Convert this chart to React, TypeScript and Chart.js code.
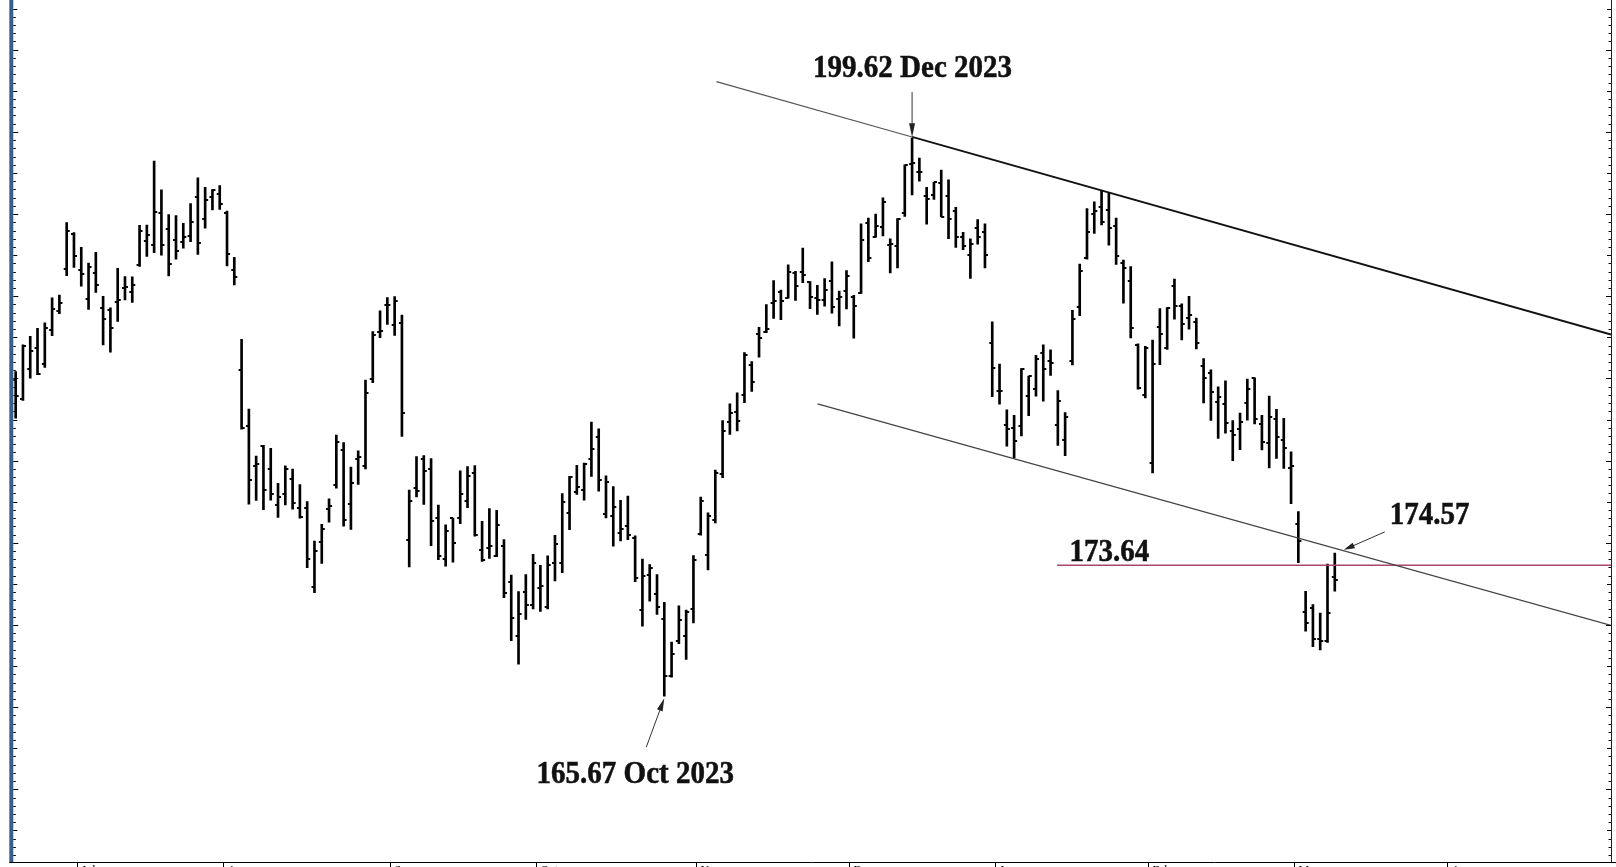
import React, { useEffect, useRef } from 'react';
import { Chart, registerables } from 'chart.js';

Chart.register(...registerables);

// ---- Data (daily OHLC, Jun 21 2023 – Mar 11 2024) ----
const dates = [
  'Jun 21', 'Jun 22', 'Jun 23', 'Jun 26', 'Jun 27', 'Jun 28', 'Jun 29', 'Jun 30',
  'Jul 3', 'Jul 5', 'Jul 6', 'Jul 7', 'Jul 10', 'Jul 11', 'Jul 12', 'Jul 13', 'Jul 14', 'Jul 17', 'Jul 18', 'Jul 19', 'Jul 20', 'Jul 21', 'Jul 24', 'Jul 25', 'Jul 26', 'Jul 27', 'Jul 28', 'Jul 31',
  'Aug 1', 'Aug 2', 'Aug 3', 'Aug 4', 'Aug 7', 'Aug 8', 'Aug 9', 'Aug 10', 'Aug 11', 'Aug 14', 'Aug 15', 'Aug 16', 'Aug 17', 'Aug 18', 'Aug 21', 'Aug 22', 'Aug 23', 'Aug 24', 'Aug 25', 'Aug 28', 'Aug 29', 'Aug 30', 'Aug 31',
  'Sep 1', 'Sep 5', 'Sep 6', 'Sep 7', 'Sep 8', 'Sep 11', 'Sep 12', 'Sep 13', 'Sep 14', 'Sep 15', 'Sep 18', 'Sep 19', 'Sep 20', 'Sep 21', 'Sep 22', 'Sep 25', 'Sep 26', 'Sep 27', 'Sep 28', 'Sep 29',
  'Oct 2', 'Oct 3', 'Oct 4', 'Oct 5', 'Oct 6', 'Oct 9', 'Oct 10', 'Oct 11', 'Oct 12', 'Oct 13', 'Oct 16', 'Oct 17', 'Oct 18', 'Oct 19', 'Oct 20', 'Oct 23', 'Oct 24', 'Oct 25', 'Oct 26', 'Oct 27', 'Oct 30', 'Oct 31',
  'Nov 1', 'Nov 2', 'Nov 3', 'Nov 6', 'Nov 7', 'Nov 8', 'Nov 9', 'Nov 10', 'Nov 13', 'Nov 14', 'Nov 15', 'Nov 16', 'Nov 17', 'Nov 20', 'Nov 21', 'Nov 22', 'Nov 24', 'Nov 27', 'Nov 28', 'Nov 29', 'Nov 30',
  'Dec 1', 'Dec 4', 'Dec 5', 'Dec 6', 'Dec 7', 'Dec 8', 'Dec 11', 'Dec 12', 'Dec 13', 'Dec 14', 'Dec 15', 'Dec 18', 'Dec 19', 'Dec 20', 'Dec 21', 'Dec 22', 'Dec 26', 'Dec 27', 'Dec 28', 'Dec 29',
  'Jan 2', 'Jan 3', 'Jan 4', 'Jan 5', 'Jan 8', 'Jan 9', 'Jan 10', 'Jan 11', 'Jan 12', 'Jan 16', 'Jan 17', 'Jan 18', 'Jan 19', 'Jan 22', 'Jan 23', 'Jan 24', 'Jan 25', 'Jan 26', 'Jan 29', 'Jan 30', 'Jan 31',
  'Feb 1', 'Feb 2', 'Feb 5', 'Feb 6', 'Feb 7', 'Feb 8', 'Feb 9', 'Feb 12', 'Feb 13', 'Feb 14', 'Feb 15', 'Feb 16', 'Feb 20', 'Feb 21', 'Feb 22', 'Feb 23', 'Feb 26', 'Feb 27', 'Feb 28', 'Feb 29',
  'Mar 1', 'Mar 4', 'Mar 5', 'Mar 6', 'Mar 7', 'Mar 8', 'Mar 11',
];

const opens = [
  184.90, 183.74, 185.55, 186.83, 185.89, 187.93, 189.08, 191.63,
  193.78, 191.57, 189.84, 191.41, 189.26, 189.16, 189.68, 190.50, 190.23, 191.90, 193.35, 193.10, 195.09, 194.10, 193.41, 193.33, 193.67, 196.02, 194.67, 196.06,
  196.24, 195.04, 191.57, 185.52, 182.13, 179.69, 180.87, 179.48, 177.32, 177.97, 178.88, 177.13, 177.14, 172.30, 175.07, 177.06, 178.52, 180.67, 177.38, 180.09, 179.70, 184.94, 187.84,
  189.49, 188.28, 188.40, 175.18, 178.35, 180.07, 179.49, 176.51, 174.00, 176.48, 176.48, 177.52, 179.26, 174.55, 174.67, 174.20, 174.82, 172.62, 169.34, 172.02,
  171.22, 172.26, 171.09, 173.79, 173.80, 176.81, 178.10, 178.20, 180.07, 181.42, 176.75, 176.65, 175.58, 176.04, 175.31, 170.91, 173.05, 171.88, 170.37, 166.91, 169.02, 169.35,
  171.00, 175.52, 174.24, 176.38, 179.18, 182.35, 182.96, 183.97, 185.82, 187.70, 187.85, 189.57, 190.25, 189.89, 191.41, 191.49, 190.87, 189.92, 189.78, 190.90, 189.84,
  190.33, 189.98, 190.21, 194.45, 193.63, 194.20, 193.11, 193.08, 195.09, 198.02, 197.53, 196.09, 196.16, 196.90, 196.10, 195.18, 193.61, 192.49, 194.14, 193.90,
  187.15, 184.22, 182.15, 181.99, 182.09, 183.92, 184.35, 186.54, 186.06, 182.16, 181.27, 186.09, 189.33, 192.30, 195.02, 195.42, 195.22, 194.27, 192.01, 190.94, 187.04,
  183.99, 179.86, 188.15, 186.86, 190.64, 189.39, 188.65, 188.42, 185.77, 185.32, 183.55, 183.42, 181.79, 181.94, 183.48, 185.01, 182.24, 181.10, 182.51, 181.27,
  179.55, 176.15, 170.76, 171.06, 169.15, 169.00, 172.94,
];

const highs = [
  185.41, 187.05, 187.56, 188.05, 188.39, 189.90, 190.07, 194.48,
  193.88, 192.98, 192.02, 192.67, 189.99, 189.30, 191.70, 191.19, 191.18, 194.32, 194.33, 198.23, 196.47, 194.97, 194.91, 194.44, 195.64, 197.20, 196.63, 196.49,
  196.73, 195.18, 192.37, 187.38, 183.13, 180.27, 180.93, 180.75, 178.62, 179.69, 179.48, 178.54, 177.51, 175.10, 176.13, 177.68, 181.55, 181.10, 179.60, 180.59, 184.90, 187.85, 189.12,
  189.92, 189.98, 188.85, 178.21, 180.24, 180.30, 180.13, 177.30, 176.10, 176.50, 179.38, 179.63, 179.70, 176.30, 177.08, 176.97, 175.20, 173.04, 172.03, 173.07,
  174.30, 173.63, 174.21, 175.45, 177.99, 179.05, 179.72, 179.85, 182.34, 181.93, 179.08, 178.42, 177.58, 177.84, 175.42, 174.01, 173.67, 173.06, 171.38, 168.96, 171.17, 170.90,
  174.23, 177.78, 176.82, 179.43, 182.44, 183.45, 184.12, 186.57, 186.03, 188.11, 189.50, 190.96, 190.38, 191.91, 191.52, 192.93, 190.90, 190.67, 191.08, 192.09, 190.32,
  191.56, 190.05, 194.40, 194.76, 195.00, 195.99, 193.49, 194.72, 198.00, 199.62, 198.40, 196.63, 196.95, 197.68, 197.08, 195.41, 193.89, 193.50, 194.66, 194.40,
  188.44, 185.88, 183.09, 182.76, 185.60, 185.15, 186.40, 187.05, 186.74, 184.26, 182.93, 189.14, 191.95, 195.33, 195.75, 196.38, 196.27, 194.76, 192.20, 191.80, 187.10,
  186.95, 187.33, 189.25, 189.31, 191.05, 189.54, 189.99, 188.67, 186.21, 185.53, 184.49, 184.85, 182.43, 182.89, 184.96, 185.04, 182.76, 183.92, 183.12, 182.57,
  180.53, 176.90, 172.04, 171.24, 170.73, 173.70, 174.38,
];

const lows = [
  182.59, 183.67, 185.01, 185.23, 185.67, 187.60, 188.94, 191.26,
  191.76, 190.62, 189.20, 190.24, 187.04, 186.60, 188.47, 189.78, 189.63, 191.81, 192.42, 192.65, 192.50, 191.23, 192.25, 192.92, 193.32, 192.55, 194.14, 195.26,
  195.28, 191.85, 190.69, 181.92, 177.35, 177.58, 177.01, 177.60, 176.55, 177.31, 177.05, 176.50, 173.48, 171.96, 173.74, 176.25, 178.33, 176.01, 175.82, 178.55, 179.50, 184.74, 187.48,
  188.28, 187.61, 181.47, 173.54, 177.79, 177.34, 174.82, 173.98, 173.58, 173.82, 176.17, 177.13, 175.40, 173.86, 174.05, 174.15, 171.66, 169.05, 167.62, 170.34,
  170.97, 170.82, 170.97, 172.68, 173.18, 175.80, 177.95, 177.60, 179.04, 178.14, 176.51, 174.80, 175.11, 175.19, 172.64, 169.93, 171.45, 170.65, 165.67, 166.83, 168.87, 167.90,
  170.12, 175.46, 173.35, 176.21, 178.97, 181.59, 181.81, 183.53, 184.21, 186.30, 187.78, 188.65, 188.57, 189.88, 189.74, 190.83, 189.25, 188.90, 189.40, 188.97, 188.19,
  189.23, 187.45, 190.18, 192.11, 193.59, 193.67, 191.42, 191.72, 194.85, 196.16, 197.00, 194.39, 195.89, 194.83, 193.50, 192.97, 192.83, 191.09, 193.17, 191.73,
  183.89, 183.43, 180.88, 180.17, 181.50, 182.73, 183.92, 183.62, 185.19, 180.93, 180.30, 185.83, 188.82, 192.26, 193.83, 194.34, 193.11, 191.94, 189.58, 187.47, 184.35,
  183.82, 179.25, 185.84, 186.77, 188.61, 187.35, 188.00, 186.79, 183.51, 182.44, 181.35, 181.67, 180.00, 180.66, 182.46, 182.23, 180.65, 179.56, 180.13, 179.53,
  177.38, 173.79, 169.62, 168.68, 168.49, 168.94, 172.05,
];

const closes = [
  183.96, 187.00, 186.68, 185.27, 188.06, 189.25, 189.59, 193.97,
  192.46, 191.33, 191.81, 190.68, 188.61, 188.08, 189.77, 190.54, 190.69, 193.99, 193.73, 195.10, 193.13, 191.94, 192.75, 193.62, 194.50, 193.22, 195.83, 196.45,
  195.61, 192.58, 191.17, 181.99, 178.85, 179.80, 178.19, 177.97, 177.79, 179.46, 177.45, 176.57, 174.00, 174.49, 175.84, 177.23, 181.12, 176.38, 178.61, 180.19, 184.12, 187.65, 187.87,
  189.46, 189.70, 182.91, 177.56, 178.18, 179.36, 176.30, 174.21, 175.74, 175.01, 177.97, 179.07, 175.49, 173.93, 174.79, 176.08, 171.96, 170.43, 170.69, 171.21,
  173.75, 172.40, 173.66, 174.91, 177.49, 178.99, 178.39, 179.80, 180.71, 178.85, 178.72, 177.15, 175.84, 175.46, 172.88, 173.00, 173.44, 171.10, 166.89, 168.22, 170.29, 170.77,
  173.97, 177.57, 176.65, 179.23, 181.82, 182.89, 182.41, 186.40, 184.80, 187.44, 188.01, 189.71, 189.69, 191.45, 190.64, 191.31, 189.97, 189.79, 190.40, 189.37, 189.95,
  191.24, 189.43, 193.42, 192.32, 194.27, 195.71, 193.18, 194.71, 197.96, 198.11, 197.57, 195.89, 196.94, 194.83, 194.68, 193.60, 193.05, 193.15, 193.58, 192.53,
  185.64, 184.25, 181.91, 181.18, 185.56, 185.14, 186.19, 185.59, 185.92, 183.63, 182.68, 188.63, 191.56, 193.89, 195.18, 194.50, 194.17, 192.42, 191.73, 188.04, 184.40,
  186.86, 185.85, 187.68, 189.30, 189.41, 188.32, 188.85, 187.15, 185.04, 184.15, 183.86, 182.31, 181.56, 182.32, 184.37, 182.52, 181.16, 182.63, 181.42, 180.75,
  179.66, 175.10, 170.12, 169.12, 169.00, 170.73, 172.75,
];

// month separators (bar index of first trading day) and their labels
const monthStarts = [8, 28, 51, 71, 93, 114, 134, 155, 175, 196];
const monthLabels = ['Jul', 'Aug', 'Sep', 'Oct', 'Nov', 'Dec', 'Jan', 'Feb', 'Mar', 'Apr'];

// trend lines (index, price)
const upperTrendA = [{ x: 96.15, y: 203.06 }, { x: 123, y: 199.69 }];
const upperTrendB = [{ x: 123, y: 199.69 }, { x: 218.9, y: 187.67 }];
const lowerTrend = [{ x: 110.03, y: 183.45 }, { x: 218.9, y: 169.98 }];
const supportLevel = 173.64;
const supportFrom = 142.9;

const X_MIN = -0.324;
const X_MAX = 218.9;
const Y_MIN = 155.58;
const Y_MAX = 207.72;

function makeTick(side: 'left' | 'right'): HTMLCanvasElement {
  const c = document.createElement('canvas');
  c.width = 10;
  c.height = 2;
  const g = c.getContext('2d')!;
  g.fillStyle = '#000';
  if (side === 'left') g.fillRect(2, 0, 3, 2);
  else g.fillRect(5, 0, 3, 2);
  return c;
}

function arrow(ctx: CanvasRenderingContext2D, x1: number, y1: number, x2: number, y2: number, headLen: number, headW: number) {
  const ang = Math.atan2(y2 - y1, x2 - x1);
  ctx.beginPath();
  ctx.moveTo(x1, y1);
  ctx.lineTo(x2 - Math.cos(ang) * headLen * 0.8, y2 - Math.sin(ang) * headLen * 0.8);
  ctx.stroke();
  ctx.beginPath();
  ctx.moveTo(x2, y2);
  ctx.lineTo(x2 - Math.cos(ang) * headLen + Math.sin(ang) * headW / 2, y2 - Math.sin(ang) * headLen - Math.cos(ang) * headW / 2);
  ctx.lineTo(x2 - Math.cos(ang) * headLen - Math.sin(ang) * headW / 2, y2 - Math.sin(ang) * headLen + Math.cos(ang) * headW / 2);
  ctx.closePath();
  ctx.fill();
}

function label(ctx: CanvasRenderingContext2D, text: string, x: number, y: number, align: CanvasTextAlign) {
  ctx.save();
  ctx.translate(x, y);
  ctx.scale(1, 1.12);
  ctx.font = "bold 29px 'Liberation Serif', 'Times New Roman', serif";
  ctx.textAlign = align;
  ctx.textBaseline = 'alphabetic';
  ctx.fillStyle = '#111';
  ctx.strokeStyle = '#111';
  ctx.lineWidth = 0.5;
  ctx.fillText(text, 0, 0);
  ctx.strokeText(text, 0, 0);
  ctx.restore();
}

const decorPlugin = {
  id: 'decor',
  afterDatasetsDraw(chart: any) {
    const { ctx, chartArea } = chart;
    const xs = chart.scales.x;
    const ys = chart.scales.y;
    const L = chartArea.left;
    const R = chartArea.right;
    const B = chartArea.bottom;
    ctx.save();

    // left axis (blue band) with ticks
    ctx.fillStyle = '#3c5e8d';
    ctx.fillRect(L - 4, 0, 4, B);
    ctx.strokeStyle = '#000';
    ctx.lineWidth = 1;
    for (let v = Math.ceil(Y_MIN * 2) / 2; v <= Y_MAX; v += 0.5) {
      const y = Math.round(ys.getPixelForValue(v)) + 0.5;
      const len = v % 5 === 0 ? 5 : v % 2.5 === 0 ? 4 : 2.5;
      ctx.beginPath();
      ctx.moveTo(L, y);
      ctx.lineTo(L + len, y);
      ctx.stroke();
      ctx.beginPath();
      ctx.moveTo(R, y);
      ctx.lineTo(R - len, y);
      ctx.stroke();
    }
    // right axis line
    ctx.strokeStyle = '#222';
    ctx.beginPath();
    ctx.moveTo(R + 0.5, 0);
    ctx.lineTo(R + 0.5, B);
    ctx.stroke();

    // bottom axis
    ctx.strokeStyle = '#000';
    ctx.beginPath();
    ctx.moveTo(L - 4, B + 0.5);
    ctx.lineTo(chart.width, B + 0.5);
    ctx.stroke();
    ctx.font = "12px 'Liberation Serif', serif";
    ctx.fillStyle = '#000';
    ctx.textBaseline = 'top';
    ctx.textAlign = 'left';
    monthStarts.forEach((m, i) => {
      const x = Math.round(xs.getPixelForValue(m + 0.4)) + 0.5;
      ctx.beginPath();
      ctx.moveTo(x, B);
      ctx.lineTo(x, chart.height);
      ctx.stroke();
      ctx.fillText(monthLabels[i], x + 4, B + 3);
    });

    // annotations
    ctx.lineWidth = 1;

    // top: 199.62 Dec 2023
    const hx = xs.getPixelForValue(123);
    const hy = ys.getPixelForValue(199.62);
    label(ctx, '199.62 Dec 2023', hx + 0.5, hy - 61, 'center');
    ctx.strokeStyle = '#333';
    ctx.fillStyle = '#222';
    ctx.lineWidth = 1;
    arrow(ctx, hx, hy - 46, hx, hy - 1, 14, 6);

    // low: 165.67 Oct 2023
    const lx = xs.getPixelForValue(89);
    const ly = ys.getPixelForValue(165.67);
    label(ctx, '165.67 Oct 2023', lx - 29, ly + 87, 'center');
    ctx.strokeStyle = '#333';
    ctx.fillStyle = '#222';
    ctx.lineWidth = 1;
    arrow(ctx, lx - 18, ly + 51, lx, ly + 2, 13, 6);

    // 174.57
    const px = xs.getPixelForValue(182.1);
    const py = ys.getPixelForValue(174.57);
    label(ctx, '174.57', px + 47, py - 26, 'left');
    ctx.strokeStyle = '#333';
    ctx.fillStyle = '#222';
    ctx.lineWidth = 1;
    arrow(ctx, px + 42, py - 18, px + 1, py, 11, 6);

    // 173.64
    const sx = xs.getPixelForValue(supportFrom);
    const sy = ys.getPixelForValue(supportLevel);
    label(ctx, '173.64', sx + 12.5, sy - 4, 'left');

    ctx.restore();
  },
};

export default function App() {
  const ref = useRef<HTMLCanvasElement | null>(null);

  useEffect(() => {
    const canvas = ref.current;
    if (!canvas) return;
    const openImg = makeTick('left');
    const closeImg = makeTick('right');

    const chart = new Chart(canvas, {
      type: 'bar',
      data: {
        datasets: [
          {
            type: 'bar',
            data: dates.map((_, i) => ({ x: i, y: [lows[i], highs[i]] })) as any,
            backgroundColor: '#000',
            borderWidth: 0,
            barThickness: 2,
            grouped: false,
            order: 3,
          } as any,
          {
            type: 'scatter',
            data: opens.map((v, i) => ({ x: i, y: v })),
            pointStyle: openImg as any,
            pointRadius: 3,
            showLine: false,
            order: 2,
          } as any,
          {
            type: 'scatter',
            data: closes.map((v, i) => ({ x: i, y: v })),
            pointStyle: closeImg as any,
            pointRadius: 3,
            showLine: false,
            order: 2,
          } as any,
          {
            type: 'line',
            data: upperTrendA,
            borderColor: '#555',
            borderWidth: 1.2,
            pointRadius: 0,
            fill: false,
            order: 1,
          } as any,
          {
            type: 'line',
            data: upperTrendB,
            borderColor: '#111',
            borderWidth: 1.8,
            pointRadius: 0,
            fill: false,
            order: 1,
          } as any,
          {
            type: 'line',
            data: lowerTrend,
            borderColor: '#444',
            borderWidth: 1.3,
            pointRadius: 0,
            fill: false,
            order: 1,
          } as any,
          {
            type: 'line',
            data: [{ x: supportFrom, y: supportLevel }, { x: X_MAX, y: supportLevel }],
            borderColor: '#a8466f',
            borderWidth: 1.5,
            pointRadius: 0,
            fill: false,
            order: 1,
          } as any,
        ],
      },
      options: {
        responsive: false,
        animation: false,
        devicePixelRatio: 1,
        events: [],
        layout: { padding: { left: 13.3, right: 1.5, top: 0, bottom: 28 } },
        plugins: { legend: { display: false }, tooltip: { enabled: false } },
        scales: {
          x: { type: 'linear', min: X_MIN, max: X_MAX, display: false, offset: false, grid: { offset: false } },
          y: { type: 'linear', min: Y_MIN, max: Y_MAX, display: false },
        },
      } as any,
      plugins: [decorPlugin],
    });
    return () => chart.destroy();
  }, []);

  return (
    <div style={{ position: 'fixed', left: 0, top: 0, width: 1616, height: 867, overflow: 'hidden', background: '#fff' }}>
      <canvas ref={ref} width={1616} height={890} style={{ display: 'block', width: 1616, height: 890 }} />
    </div>
  );
}
